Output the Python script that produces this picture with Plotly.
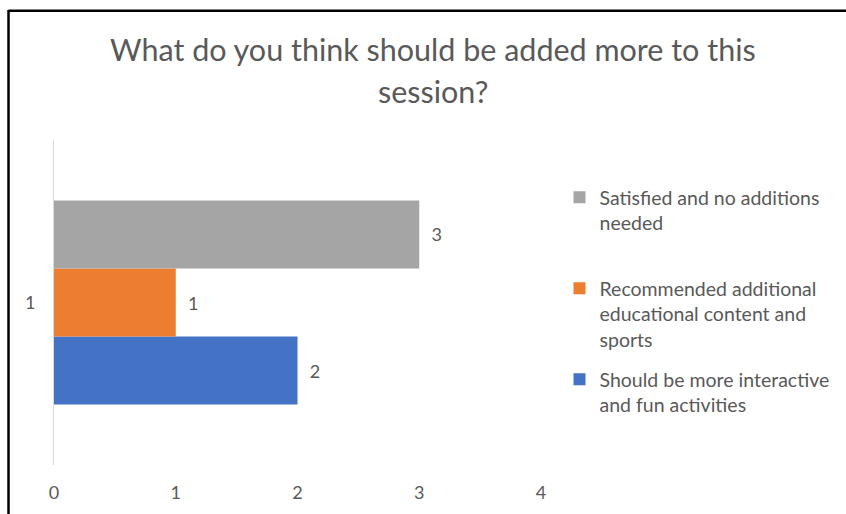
import plotly.graph_objects as go

categories = ["1"]
series_names = [
    "Should be more interactive<br>and fun activities",
    "Recommended additional<br>educational content and<br>sports",
    "Satisfied and no additions<br>needed<br> ",
]
series_values = [[2], [1], [3]]
series_colors = ["#4472C4", "#ED7D31", "#A5A5A5"]
legend_ranks = [3, 2, 1]
x_ticks = [0, 1, 2, 3, 4]
title_lines = ["What do you think should be added more to this", "session?"]

FONT = "Lato"
TXT = "#595959"

fig = go.Figure()
for i, (name, vals, col, rk) in enumerate(zip(series_names, series_values, series_colors, legend_ranks)):
    fig.add_trace(go.Bar(
        y=categories, x=vals, name=name, orientation="h", legendgroup=f"g{i}",
        legendrank=rk,
        marker=dict(color=col, line=dict(width=0)),
        text=vals, texttemplate="  %{x}", textposition="outside",
        textfont=dict(family=FONT, size=18, color=TXT), cliponaxis=False,
    ))

fig.update_layout(
    width=846, height=514,
    margin=dict(l=54, r=305, t=140, b=49),
    paper_bgcolor="white", plot_bgcolor="white",
    barmode="group", bargap=0.372, bargroupgap=0,
    showlegend=True,
    legend=dict(
        traceorder="grouped", x=1.038, xanchor="left", y=0.883, yanchor="top",
        font=dict(family=FONT, size=19.5, color=TXT), valign="top",
        tracegroupgap=12, itemclick=False,
    ),
    xaxis=dict(range=[0, 4], tickvals=x_ticks, showgrid=False, zeroline=False,
               showline=False, ticks="", ticklabelstandoff=15,
               tickfont=dict(family=FONT, size=18, color=TXT), fixedrange=True),
    yaxis=dict(showgrid=False, zeroline=False, showline=True, linecolor="#D9D9D9",
               linewidth=1, ticks="", ticklabelstandoff=14,
               tickfont=dict(family=FONT, size=18, color=TXT), fixedrange=True),
)

for i, line in enumerate(title_lines):
    fig.add_annotation(text=line, xref="paper", yref="paper", x=0.779,
                       y=1.279 - i * 0.128, xanchor="center", yanchor="middle",
                       showarrow=False, font=dict(family=FONT, size=30.5, color=TXT))

# chart frame (left and top edges)
fig.add_shape(type="line", xref="paper", yref="paper", x0=-0.0934, x1=-0.0934,
              y0=1.4, y1=-0.2, line=dict(color="black", width=2.5))
fig.add_shape(type="line", xref="paper", yref="paper", x0=-0.0934, x1=1.7,
              y0=1.398, y1=1.398, line=dict(color="black", width=2.5))

fig.write_html("out.html")
